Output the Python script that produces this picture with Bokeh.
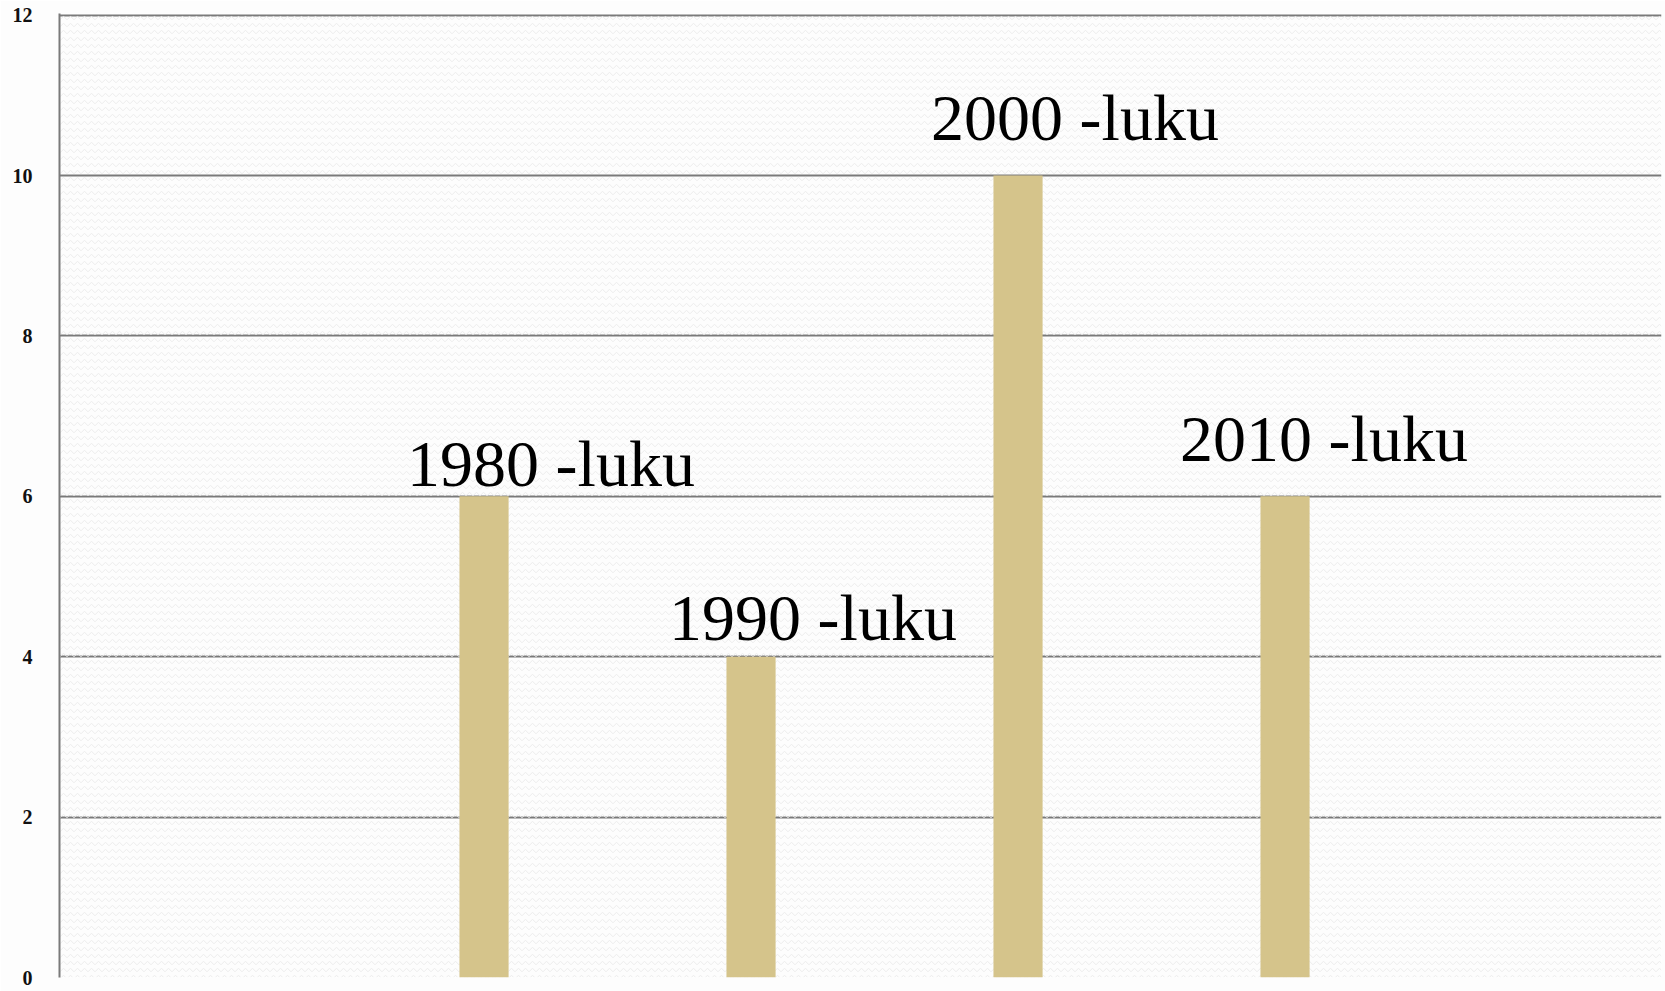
from bokeh.plotting import figure
from bokeh.models import Range1d, FixedTicker, ColumnDataSource, BoxAnnotation
from bokeh.core.properties import value
from bokeh.embed import file_html
from bokeh.resources import INLINE

# ---- data ----
decades = ["1980 -luku", "1990 -luku", "2000 -luku", "2010 -luku"]
counts = [6, 4, 10, 6]
y_ticks = [0, 2, 4, 6, 8, 10, 12]

# ---- label nudges (style, screen pixels) ----
label_dx = [67, 62, 57, 39]
label_dy = [-33, -39, -58, -58]

idx = list(range(len(decades)))
src = ColumnDataSource(dict(x=idx, top=counts, label=decades, dx=label_dx, dy=label_dy))

p = figure(width=1665, height=991, output_backend="svg", toolbar_location=None,
           x_range=Range1d(-1.59, 4.41), y_range=Range1d(0, 12.02),
           min_border_left=59, min_border_top=13, min_border_right=4, min_border_bottom=14)

p.background_fill_color = "#fdfdfd"
p.border_fill_color = "#fdfdfd"
p.outline_line_color = None

p.add_layout(BoxAnnotation(left=-1.59, right=4.41, bottom=0, top=12.02, fill_alpha=0,
                           line_color=None, hatch_pattern="horizontal_wave",
                           hatch_color="#ececec", hatch_scale=7, hatch_weight=1,
                           level="underlay"))

p.vbar(x="x", top="top", width=0.184, bottom=0, source=src,
       fill_color="#D5C48B", line_color=None)

p.text(x="x", y="top", text="label", source=src, x_offset="dx", y_offset="dy",
       text_font=value("Liberation Serif"), text_font_size="66px",
       text_color="#000000", text_align="center", text_baseline="alphabetic")

p.xaxis.visible = False
p.xgrid.visible = False

p.yaxis.ticker = FixedTicker(ticks=y_ticks)
p.yaxis.major_tick_line_color = None
p.yaxis.minor_tick_line_color = None
p.yaxis.axis_line_color = "#7a7a7a"
p.yaxis.axis_line_width = 2
p.yaxis.major_label_standoff = 21
p.yaxis.major_label_text_font = "Liberation Serif"
p.yaxis.major_label_text_font_size = "20px"
p.yaxis.major_label_text_font_style = "bold"
p.yaxis.major_label_text_color = "#111111"

p.ygrid.ticker = FixedTicker(ticks=y_ticks)
p.ygrid.grid_line_color = "#7a7a7a"
p.ygrid.grid_line_width = 2

open("out.html", "w").write(file_html(p, INLINE))
